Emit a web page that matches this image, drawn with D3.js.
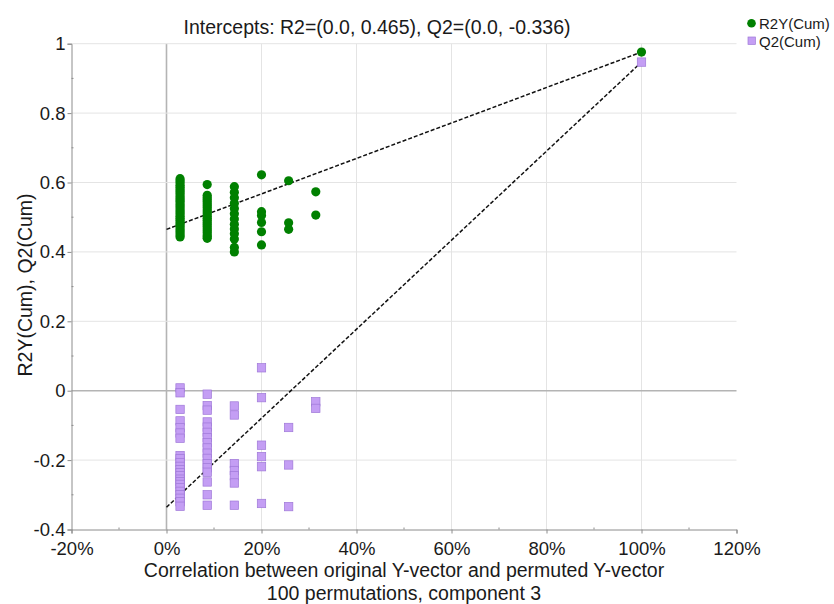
<!DOCTYPE html>
<html>
<head>
<meta charset="utf-8">
<script src="https://cdn.jsdelivr.net/npm/d3@7"></script>
<style>
  body { margin: 0; background: #fff; }
  text { font-family: "Liberation Sans", Arial, sans-serif; fill: #1a1a1a; }
</style>
</head>
<body>
<div id="chart"></div>
<script>
// permuted correlation columns (odd multiples of 1/35)
let permX = [1 / 35, 3 / 35, 5 / 35, 7 / 35, 9 / 35, 11 / 35]

// R2Y(Cum) values for each column
let r2Cols = [
  [0.611, 0.605, 0.599, 0.592, 0.586, 0.58, 0.574, 0.568, 0.562, 0.556, 0.55, 0.545, 0.539, 0.533, 0.527,
    0.521, 0.515, 0.509, 0.503, 0.497, 0.491, 0.485, 0.479, 0.473, 0.467, 0.461, 0.455, 0.449, 0.443],
  [0.594, 0.563, 0.557, 0.551, 0.545, 0.539, 0.533, 0.527, 0.521, 0.515, 0.509, 0.503, 0.497, 0.491, 0.485,
    0.479, 0.473, 0.467, 0.461, 0.455, 0.449, 0.444, 0.439],
  [0.588, 0.572, 0.556, 0.54, 0.525, 0.51, 0.495, 0.48, 0.466, 0.452, 0.437, 0.413, 0.4],
  [0.622, 0.516, 0.505, 0.485, 0.458, 0.42],
  [0.605, 0.484, 0.465],
  [0.573, 0.506]
]

// Q2(Cum) values for each column
let q2Cols = [
  [0.008, -0.006, -0.054, -0.087, -0.107, -0.122, -0.137, -0.187, -0.196, -0.207, -0.218, -0.228, -0.236,
    -0.245, -0.255, -0.262, -0.27, -0.28, -0.29, -0.3, -0.31, -0.32, -0.333],
  [-0.01, -0.043, -0.056, -0.09, -0.105, -0.12, -0.135, -0.15, -0.165, -0.18, -0.195, -0.21, -0.222, -0.235,
    -0.263, -0.3, -0.33],
  [-0.044, -0.07, -0.21, -0.23, -0.245, -0.266, -0.33],
  [0.066, -0.02, -0.157, -0.19, -0.219, -0.325],
  [-0.106, -0.214, -0.334],
  [-0.032, -0.051]
]

// original model point
let origX = 1.0
let origR2 = 0.976
let origQ2 = 0.947
let r2Intercept = 0.465
let q2Intercept = -0.336

let xTicks = [-0.2, 0, 0.2, 0.4, 0.6, 0.8, 1.0, 1.2]
let yTicks = [-0.4, -0.2, 0, 0.2, 0.4, 0.6, 0.8, 1]

let width = 834
let height = 604
let plotLeft = 71.5
let plotRight = 736.5
let plotTop = 43.7
let plotBottom = 529.5
let fontStack = '"Liberation Sans", Arial, sans-serif'

let svg = d3.select('#chart').append('svg')
  .attr('width', width)
  .attr('height', height)

let x = d3.scaleLinear().domain([-0.2, 1.2]).range([plotLeft, plotRight])
let y = d3.scaleLinear().domain([-0.4, 1]).range([plotBottom, plotTop])

// grid
let grid = svg.append('g')
grid.selectAll('line.vg')
  .data(xTicks.filter(d => d > -0.2 && d < 1.2))
  .enter().append('line')
  .attr('x1', d => x(d)).attr('x2', d => x(d))
  .attr('y1', plotTop).attr('y2', plotBottom)
  .attr('stroke', d => d === 0 ? '#b4b4b4' : '#e4e4e4')
  .attr('stroke-width', d => d === 0 ? 1.6 : 1)
grid.selectAll('line.hg')
  .data(yTicks.filter(d => d > -0.4))
  .enter().append('line')
  .attr('x1', plotLeft).attr('x2', plotRight)
  .attr('y1', d => y(d)).attr('y2', d => y(d))
  .attr('stroke', d => d === 0 ? '#b4b4b4' : '#e4e4e4')
  .attr('stroke-width', d => d === 0 ? 1.6 : 1)

// axes
let pct = d => (Math.round(d * 100)) + '%'
let num = d => String(+d.toFixed(1))
let xAxis = svg.append('g')
  .attr('transform', 'translate(0,' + plotBottom + ')')
  .call(d3.axisBottom(x).tickValues(xTicks).tickFormat(pct).tickSize(4).tickPadding(8))
let yAxis = svg.append('g')
  .attr('transform', 'translate(' + plotLeft + ',0)')
  .call(d3.axisLeft(y).tickValues(yTicks).tickFormat(num).tickSize(4).tickPadding(2))

;[xAxis, yAxis].forEach(a => {
  a.select('.domain').attr('stroke', '#8c8c8c')
  a.selectAll('.tick line').attr('stroke', '#8c8c8c')
  a.selectAll('.tick text').style('font-size', '18.5px').attr('fill', '#1a1a1a')
    .style('font-family', fontStack)
})

// minor ticks
svg.append('g').selectAll('line')
  .data(d3.range(-0.1, 1.2, 0.2))
  .enter().append('line')
  .attr('x1', d => x(d)).attr('x2', d => x(d))
  .attr('y1', plotBottom - 2).attr('y2', plotBottom)
  .attr('stroke', '#8c8c8c')
svg.append('g').selectAll('line')
  .data(d3.range(-0.3, 1, 0.2))
  .enter().append('line')
  .attr('x1', plotLeft).attr('x2', plotLeft + 2)
  .attr('y1', d => y(d)).attr('y2', d => y(d))
  .attr('stroke', '#8c8c8c')

// intercept lines
let lines = [
  [[0, r2Intercept], [origX, origR2]],
  [[0, q2Intercept], [origX, origQ2]]
]
svg.append('g').selectAll('line')
  .data(lines)
  .enter().append('line')
  .attr('x1', d => x(d[0][0])).attr('y1', d => y(d[0][1]))
  .attr('x2', d => x(d[1][0])).attr('y2', d => y(d[1][1]))
  .attr('stroke', '#111')
  .attr('stroke-width', 1.5)
  .attr('stroke-dasharray', '4,2')

// points
let q2Pts = []
q2Cols.forEach((col, i) => col.forEach(v => q2Pts.push([permX[i], v])))
q2Pts.push([origX, origQ2])
let r2Pts = []
r2Cols.forEach((col, i) => col.forEach(v => r2Pts.push([permX[i], v])))
r2Pts.push([origX, origR2])

let sq = 8.4
svg.append('g').selectAll('rect')
  .data(q2Pts)
  .enter().append('rect')
  .attr('x', d => x(d[0]) - sq / 2)
  .attr('y', d => y(d[1]) - sq / 2)
  .attr('width', sq).attr('height', sq)
  .attr('fill', '#c49ef4')
  .attr('stroke', '#9f78d8')
  .attr('stroke-width', 0.7)

svg.append('g').selectAll('circle')
  .data(r2Pts)
  .enter().append('circle')
  .attr('cx', d => x(d[0]))
  .attr('cy', d => y(d[1]))
  .attr('r', 4.6)
  .attr('fill', '#008000')

// title
svg.append('text')
  .attr('x', 377).attr('y', 34)
  .attr('text-anchor', 'middle')
  .style('font-size', '19.5px')
  .text('Intercepts: R2=(0.0, ' + r2Intercept + '), Q2=(0.0, ' + q2Intercept + ')')

// axis titles
svg.append('text')
  .attr('x', (plotLeft + plotRight) / 2).attr('y', 577)
  .attr('text-anchor', 'middle')
  .style('font-size', '19.5px')
  .text('Correlation between original Y-vector and permuted Y-vector')
svg.append('text')
  .attr('x', (plotLeft + plotRight) / 2).attr('y', 600)
  .attr('text-anchor', 'middle')
  .style('font-size', '19.5px')
  .text('100 permutations, component 3')
svg.append('text')
  .attr('transform', 'translate(32,285)rotate(-90)')
  .attr('text-anchor', 'middle')
  .style('font-size', '19.5px')
  .text('R2Y(Cum), Q2(Cum)')

// legend
let legend = svg.append('g')
legend.append('circle')
  .attr('cx', 751.5).attr('cy', 23.3).attr('r', 4.3)
  .attr('fill', '#008000')
legend.append('text')
  .attr('x', 759).attr('y', 28.5)
  .style('font-size', '15px')
  .text('R2Y(Cum)')
legend.append('rect')
  .attr('x', 748).attr('y', 37).attr('width', 7.4).attr('height', 7.4)
  .attr('fill', '#c49ef4')
  .attr('stroke', '#9f78d8')
  .attr('stroke-width', 0.7)
legend.append('text')
  .attr('x', 759).attr('y', 46.5)
  .style('font-size', '15px')
  .text('Q2(Cum)')
</script>
</body>
</html>
